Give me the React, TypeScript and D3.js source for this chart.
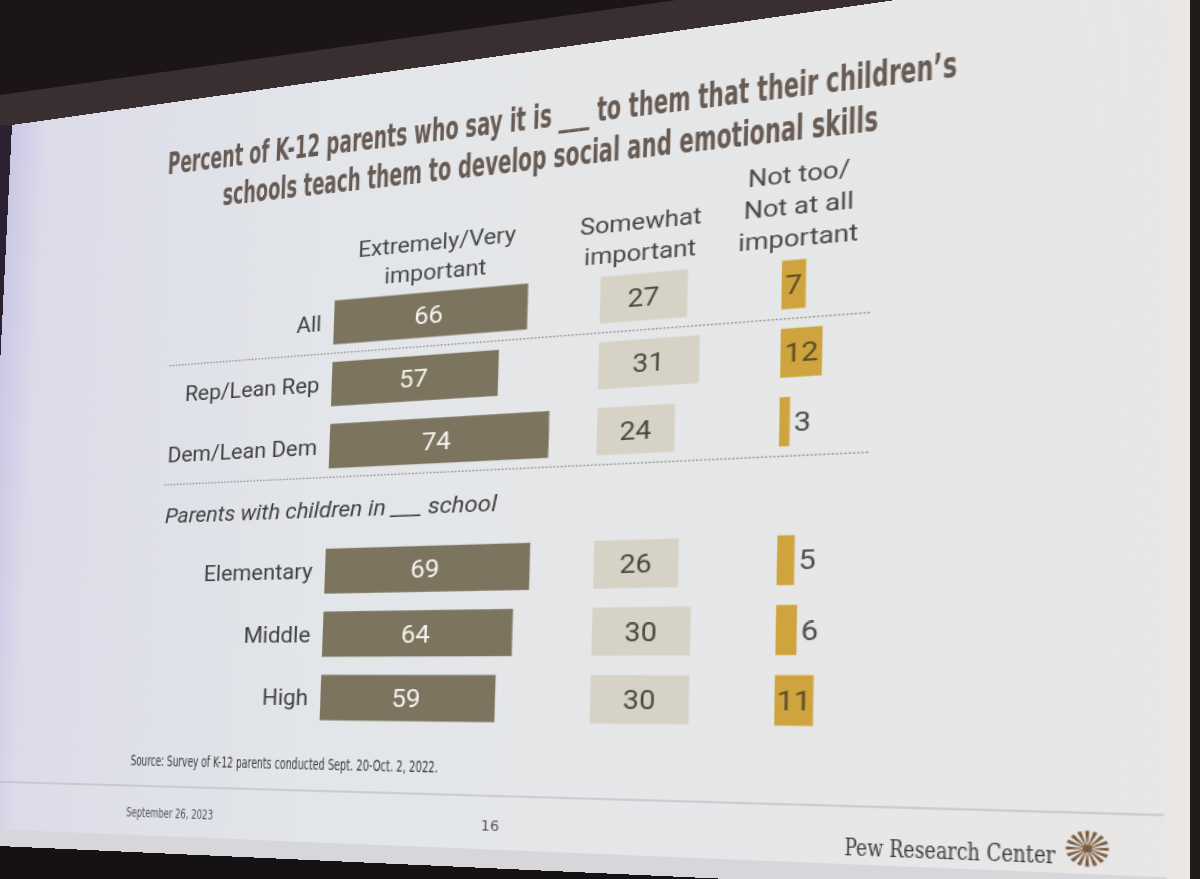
import React, { useEffect, useRef } from 'react'
import * as d3 from 'd3'

// chart data
const rowLabels = ['All', 'Rep/Lean Rep', 'Dem/Lean Dem', 'Elementary', 'Middle', 'High']
const veryImportant = [66, 57, 74, 69, 64, 59]
const somewhatImportant = [27, 31, 24, 26, 30, 30]
const notImportant = [7, 12, 3, 5, 6, 11]
const columnHeaders = [
  ['Extremely/Very', 'important'],
  ['Somewhat', 'important'],
  ['Not too/', 'Not at all', 'important']
]
const rowSlots = ['All', 'Rep/Lean Rep', 'Dem/Lean Dem', 'section', 'Elementary', 'Middle', 'High']
const sectionLabel = 'Parents with children in ___ school'
const titleLines = [
  'Percent of K-12 parents who say it is ___ to them that their children\u2019s',
  'schools teach them to develop social and emotional skills'
]
const sourceNote = 'Source: Survey of K-12 parents conducted Sept. 20-Oct. 2, 2022.'
const slideDate = 'September 26, 2023'
const slideNumber = '16'
const brand = 'Pew Research Center'

const SLIDE_W = 960
const SLIDE_H = 720
// where the slide corners land in the photo: TL, TR, BR, BL
const slideCorners: [number, number][] = [
  [12, 125],
  [1190, -41.6],
  [1190, 900],
  [-24, 845]
]

// projective map from the flat slide onto the photographed quad
function quadMatrix(w: number, h: number, q: [number, number][]) {
  const [[x0, y0], [x1, y1], [x2, y2], [x3, y3]] = q
  const dx1 = x1 - x2
  const dx2 = x3 - x2
  const dx3 = x0 - x1 + x2 - x3
  const dy1 = y1 - y2
  const dy2 = y3 - y2
  const dy3 = y0 - y1 + y2 - y3
  const den = dx1 * dy2 - dx2 * dy1
  const g = (dx3 * dy2 - dx2 * dy3) / den
  const k = (dx1 * dy3 - dx3 * dy1) / den
  const a = x1 - x0 + g * x1
  const b = x3 - x0 + k * x3
  const d = y1 - y0 + g * y1
  const e = y3 - y0 + k * y3
  return `matrix3d(${a / w},${d / w},0,${g / w},${b / h},${e / h},0,${k / h},0,0,1,0,${x0},${y0},0,1)`
}

const SANS = "Roboto, 'Liberation Sans', sans-serif"
const NARROW = "'Liberation Sans Narrow', 'DejaVu Sans Condensed', Roboto, sans-serif"

export default function App() {
  const slideRef = useRef<SVGSVGElement | null>(null)

  useEffect(() => {
    if (!slideRef.current) {
      return
    }
    const svg = d3.select(slideRef.current)
    svg.selectAll('*').remove()

    const defs = svg.append('defs')
    const grad = defs
      .append('linearGradient')
      .attr('id', 'slideBg')
      .attr('x1', 0)
      .attr('x2', 1)
      .attr('y1', 0)
      .attr('y2', 0)
    grad.append('stop').attr('offset', '0%').attr('stop-color', '#cbc8e6')
    grad.append('stop').attr('offset', '4%').attr('stop-color', '#dcdce9')
    grad.append('stop').attr('offset', '35%').attr('stop-color', '#e3e6e9')
    grad.append('stop').attr('offset', '100%').attr('stop-color', '#e8e7e6')

    svg.append('rect').attr('width', SLIDE_W).attr('height', SLIDE_H).attr('fill', 'url(#slideBg)')
    svg
      .append('rect')
      .attr('y', 704)
      .attr('width', SLIDE_W)
      .attr('height', SLIDE_H - 704)
      .attr('fill', '#d7d7db')
    svg
      .append('rect')
      .attr('x', SLIDE_W - 14)
      .attr('width', 14)
      .attr('height', SLIDE_H)
      .attr('fill', '#ebe8e4')

    // title
    svg
      .append('g')
      .selectAll('text')
      .data(titleLines)
      .enter()
      .append('text')
      .attr('x', 485)
      .attr('y', (_, i) => 71 + i * 37)
      .attr('text-anchor', 'middle')
      .attr('font-family', NARROW)
      .attr('font-weight', 700)
      .attr('font-size', 30)
      .attr('fill', '#675a52')
      .attr('textLength', (_, i) => (i === 0 ? 646 : 537))
      .attr('lengthAdjust', 'spacingAndGlyphs')
      .text((d) => d)

    const x = d3.scaleLinear().domain([0, 100]).range([0, 251])
    const y = d3.scalePoint<string>().domain(rowSlots).range([230, 574])
    const barH = 41

    const columns = [
      { values: veryImportant, x0: 324, fill: '#7c745f', ink: '#f6f4ee', header: columnHeaders[0], hx: 411 },
      { values: somewhatImportant, x0: 548, fill: '#d7d2c6', ink: '#4b4640', header: columnHeaders[1], hx: 578 },
      { values: notImportant, x0: 686, fill: '#cfa43f', ink: '#5b4a26', header: columnHeaders[2], hx: 697 }
    ]

    // separators
    const sepY = [
      ((y(rowSlots[0]) ?? 0) + (y(rowSlots[1]) ?? 0)) / 2,
      ((y(rowSlots[2]) ?? 0) + (y(rowSlots[3]) ?? 0)) / 2
    ]
    svg
      .append('g')
      .selectAll('line')
      .data(sepY)
      .enter()
      .append('line')
      .attr('x1', 172)
      .attr('x2', 751)
      .attr('y1', (d) => d)
      .attr('y2', (d) => d)
      .attr('stroke', '#8f8f8f')
      .attr('stroke-width', 1.3)
      .attr('stroke-dasharray', '1.5 1.5')

    // column headers
    columns.forEach((col) => {
      const n = col.header.length
      svg
        .append('g')
        .selectAll('text')
        .data(col.header)
        .enter()
        .append('text')
        .attr('x', col.hx)
        .attr('y', (_, i) => 198 - (n - 1 - i) * 27)
        .attr('text-anchor', 'middle')
        .attr('font-family', SANS)
        .attr('font-size', 20)
        .attr('fill', '#474747')
        .text((d) => d)
    })

    // row labels
    svg
      .append('g')
      .selectAll('text')
      .data(rowLabels)
      .enter()
      .append('text')
      .attr('x', 313)
      .attr('y', (d) => (y(d) ?? 0) + 7)
      .attr('text-anchor', 'end')
      .attr('font-family', SANS)
      .attr('font-size', 20)
      .attr('fill', '#3f3f3f')
      .text((d) => d)

    svg
      .append('text')
      .attr('x', 174)
      .attr('y', (y('section') ?? 0) + 8)
      .attr('font-family', SANS)
      .attr('font-style', 'italic')
      .attr('font-size', 20)
      .attr('fill', '#3f3f3f')
      .text(sectionLabel)

    // bars and values
    columns.forEach((col) => {
      const rows = rowLabels.map((label, i) => ({ label, value: col.values[i] }))
      const g = svg.append('g').attr('transform', `translate(${col.x0},0)`)
      g.selectAll('rect')
        .data(rows)
        .enter()
        .append('rect')
        .attr('x', 0)
        .attr('y', (d) => (y(d.label) ?? 0) - barH / 2)
        .attr('width', (d) => x(d.value))
        .attr('height', barH)
        .attr('fill', col.fill)

      g.selectAll('text')
        .data(rows)
        .enter()
        .append('text')
        .attr('x', (d) => (x(d.value) < 16 ? x(d.value) + 3 : x(d.value) / 2))
        .attr('y', (d) => (y(d.label) ?? 0) + 8)
        .attr('text-anchor', (d) => (x(d.value) < 16 ? 'start' : 'middle'))
        .attr('font-family', SANS)
        .attr('font-size', 22)
        .attr('fill', (d) => (x(d.value) < 16 ? '#4a4a4a' : col.ink))
        .text((d) => d.value)
    })

    // footer
    svg
      .append('text')
      .attr('x', 151)
      .attr('y', 639)
      .attr('font-family', NARROW)
      .attr('font-size', 14)
      .attr('fill', '#3a3a3a')
      .attr('textLength', 276)
      .attr('lengthAdjust', 'spacingAndGlyphs')
      .text(sourceNote)

    svg
      .append('line')
      .attr('x1', 18)
      .attr('x2', 944)
      .attr('y1', 658)
      .attr('y2', 658)
      .attr('stroke', '#b4b6ba')
      .attr('stroke-width', 1.2)

    svg
      .append('text')
      .attr('x', 149)
      .attr('y', 687)
      .attr('font-family', NARROW)
      .attr('font-size', 12)
      .attr('fill', '#555')
      .attr('textLength', 82)
      .attr('lengthAdjust', 'spacingAndGlyphs')
      .text(slideDate)

    svg
      .append('text')
      .attr('x', 471)
      .attr('y', 688)
      .attr('text-anchor', 'middle')
      .attr('font-family', NARROW)
      .attr('font-size', 13)
      .attr('fill', '#555')
      .text(slideNumber)

    svg
      .append('text')
      .attr('x', 737)
      .attr('y', 697)
      .attr('font-family', "'DejaVu Serif', 'Liberation Serif', serif")
      .attr('font-size', 19)
      .attr('fill', '#3f3838')
      .attr('textLength', 140)
      .attr('lengthAdjust', 'spacingAndGlyphs')
      .text(brand)

    const spokes = d3.range(16)
    const arc = d3
      .arc<number>()
      .innerRadius(2.5)
      .outerRadius(13.5)
      .startAngle((d) => (d * 2 * Math.PI) / 16 - 0.1)
      .endAngle((d) => (d * 2 * Math.PI) / 16 + 0.1)
    const logo = svg.append('g').attr('transform', 'translate(897,685)')
    logo
      .selectAll('path')
      .data(spokes)
      .enter()
      .append('path')
      .attr('d', (d) => arc(d) ?? '')
      .attr('fill', '#7a5a3d')
    logo.append('circle').attr('r', 3).attr('fill', '#7a5a3d')
  }, [])

  const [tl, tr, br, bl] = slideCorners

  return (
    <div
      style={{
        position: 'fixed',
        left: 0,
        top: 0,
        width: 1200,
        height: 879,
        overflow: 'hidden',
        background: '#161113'
      }}
    >
      <svg width={1200} height={879} style={{ position: 'absolute', left: 0, top: 0 }}>
        <rect width={1200} height={879} fill="#161113" />
        <polygon points={`0,0 900,0 ${tr[0]},${tr[1]} ${tl[0]},${tl[1]} 0,${tl[1]}`} fill="#1b1517" />
        <polygon
          points={`0,${tl[1] + 3} 0,${tl[1] - 30} ${tr[0] + 10},${tr[1] - 32} ${tr[0] + 10},${tr[1]}`}
          fill="#392f31"
        />
        <polygon points={`0,${tl[1]} ${tl[0]},${tl[1]} ${bl[0] + 40},420 0,420`} fill="#2a2230" />
        <rect x={1190} y={0} width={10} height={879} fill="#201a1a" />
      </svg>
      <svg
        ref={slideRef}
        width={SLIDE_W}
        height={SLIDE_H}
        viewBox={`0 0 ${SLIDE_W} ${SLIDE_H}`}
        style={{
          position: 'absolute',
          left: 0,
          top: 0,
          display: 'block',
          transformOrigin: '0 0',
          transform: quadMatrix(SLIDE_W, SLIDE_H, [tl, tr, br, bl])
        }}
      />
    </div>
  )
}
